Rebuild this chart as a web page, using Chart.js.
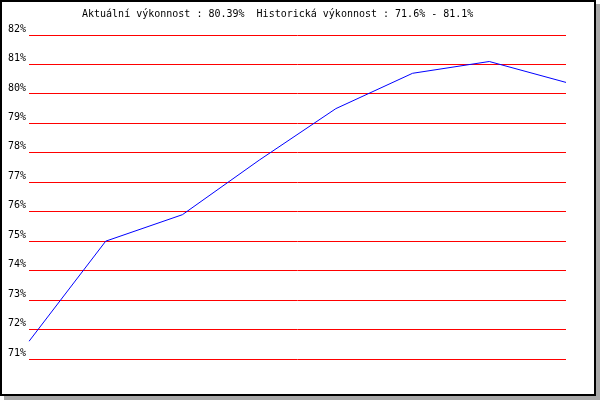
<!DOCTYPE html>
<html>
<head>
<meta charset="utf-8">
<script src="https://cdn.jsdelivr.net/npm/chart.js@4/dist/chart.umd.min.js"></script>
<style>
  body { margin: 0; background: #fff; }
  #frame {
    position: absolute; left: 0; top: 0;
    width: 592px; height: 392px;
    border: 2px solid #000;
    box-shadow: 4px 4px 0 #a8a8a8;
    background: #fff;
  }
  #perfChart { position: absolute; left: 0; top: 0; }
</style>
</head>
<body>
<div id="frame"></div>
<canvas id="perfChart" width="600" height="400"></canvas>
<script>
//data
const periods = ['1', '2', '3', '4', '5', '6', '7', '8'];
const performance = [71.6, 75.0, 75.9, 77.75, 79.5, 80.7, 81.1, 80.39];
const yMin = 71;
const yMax = 82;

const currentValue = '80.39%';
const histRange = '71.6% - 81.1%';
const headerText = 'Aktuální výkonnost : ' + currentValue + '  Historická výkonnost : ' + histRange;

const monoFont = { family: 'DejaVu Sans Mono', size: 10 };

//header text drawn at a fixed spot above the plot
const headerPlugin = {
    id: 'header',
    afterDraw(chart) {
        const ctx = chart.ctx;
        ctx.save();
        ctx.font = '10px "DejaVu Sans Mono"';
        ctx.fillStyle = '#000';
        ctx.textBaseline = 'alphabetic';
        ctx.textAlign = 'left';
        ctx.fillText(headerText, 82, 17);
        ctx.restore();
    }
};

var perfConfig = {
    type: 'line',
    data: {
        labels: periods,
        datasets: [{
            data: performance,
            borderColor: '#0000ff',
            backgroundColor: '#0000ff',
            borderWidth: 1,
            fill: false,
            tension: 0,
            pointRadius: 0
        }]
    },
    options: {
        responsive: false,
        animation: false,
        layout: {
            padding: { left: 0, right: 34, top: 35, bottom: 41 }
        },
        scales: {
            x: {
                display: false
            },
            y: {
                min: yMin,
                max: yMax,
                afterFit: function(scale) { scale.width = 29; },
                border: { display: false },
                grid: {
                    color: '#ff0000',
                    lineWidth: 1,
                    drawTicks: false
                },
                ticks: {
                    stepSize: 1,
                    padding: 3,
                    labelOffset: -6,
                    color: '#000',
                    font: monoFont,
                    callback: v => v + '%'
                }
            }
        },
        plugins: {
            legend: { display: false },
            tooltip: { enabled: false },
            title: { display: false }
        }
    },
    plugins: [headerPlugin]
};

window.onload = function() {
    var ctx = document.getElementById('perfChart').getContext('2d');
    window.perfChart = new Chart(ctx, perfConfig);
};
</script>
</body>
</html>
